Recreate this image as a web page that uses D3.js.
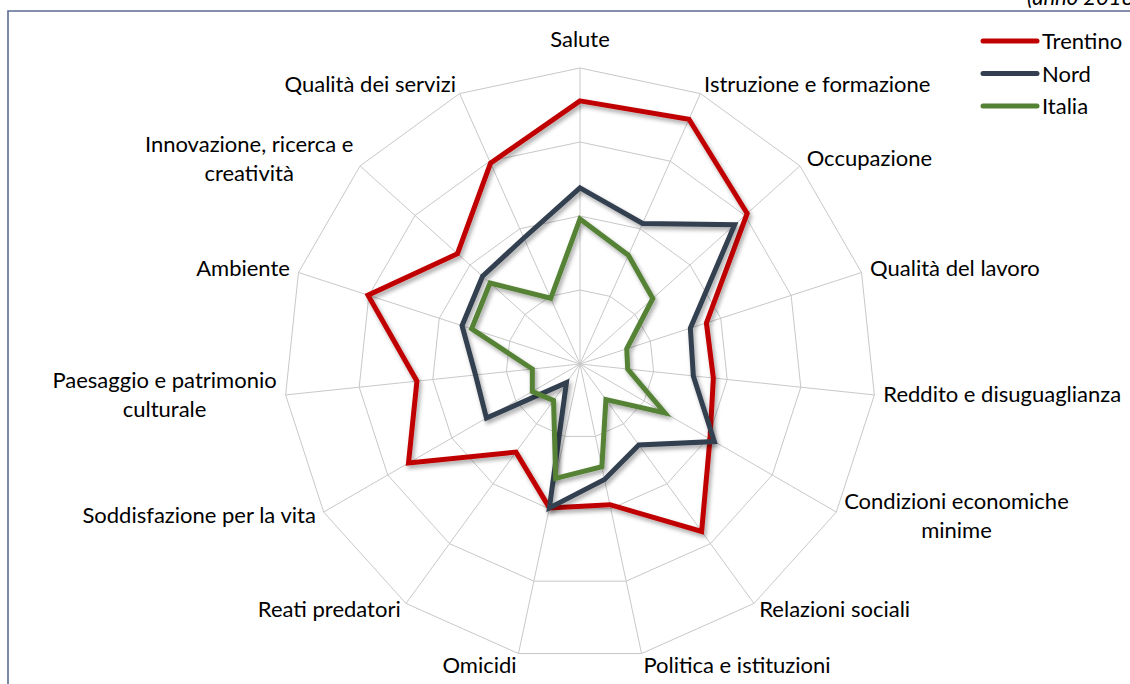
<!DOCTYPE html>
<html>
<head>
<meta charset="utf-8">
<script src="https://cdn.jsdelivr.net/npm/d3@7"></script>
<style>
    body { margin: 0; background: #fff; }
    svg { display: block; }
    text { font-family: Lato, "Open Sans", sans-serif; font-size: 22px; fill: #000; }
</style>
</head>
<body>
<svg id="chart" width="1130" height="684"></svg>
<script>
// axis labels (clockwise from top), one entry per line
const domains = [
    ["Salute"],
    ["Istruzione e formazione"],
    ["Occupazione"],
    ["Qualità del lavoro"],
    ["Reddito e disuguaglianza"],
    ["Condizioni economiche", "minime"],
    ["Relazioni sociali"],
    ["Politica e istituzioni"],
    ["Omicidi"],
    ["Reati predatori"],
    ["Soddisfazione per la vita"],
    ["Paesaggio e patrimonio", "culturale"],
    ["Ambiente"],
    ["Innovazione, ricerca e", "creatività"],
    ["Qualità dei servizi"]
];
const trentino = [88.9, 90.5, 76.0, 44.9, 45.3, 50.7, 69.9, 48.6, 49.7, 36.8, 66.9, 55.4, 75.3, 55.7, 74.3];
const nord     = [59.5, 52.0, 70.3, 39.2, 38.5, 52.4, 33.8, 39.9, 49.7, 7.8, 36.5, 35.5, 41.9, 44.3, 46.6];
const italia   = [49.0, 40.2, 33.1, 16.6, 16.2, 33.1, 14.9, 35.5, 39.5, 15.2, 18.6, 16.2, 38.5, 40.9, 24.3];
const ringTicks = [25, 50, 75, 100];

const series = [
    { name: "Trentino", values: trentino, color: "#c00000" },
    { name: "Nord", values: nord, color: "#333f50" },
    { name: "Italia", values: italia, color: "#548235" }
];

const svg = d3.select("#chart");
const cx = 580, cy = 364, R = 296;
const n = domains.length;

const angle = d3.scaleLinear().domain([0, n]).range([0, 2 * Math.PI]);
const r = d3.scaleLinear().domain([0, 100]).range([0, R]);

function pt(i, v) {
    const a = angle(i);
    return [cx + r(v) * Math.sin(a), cy - r(v) * Math.cos(a)];
}

// frame
svg.append("path")
    .attr("d", "M8,684 V11 H1130")
    .attr("fill", "none")
    .attr("stroke", "#5b6b93")
    .attr("stroke-width", 1.6);
svg.append("text")
    .attr("x", 1140)
    .attr("y", 5)
    .attr("text-anchor", "end")
    .style("font-style", "italic")
    .text("(anno 2018)");

// shadow
const defs = svg.append("defs");
defs.append("filter")
    .attr("id", "shadow")
    .attr("x", "-10%").attr("y", "-10%")
    .attr("width", "120%").attr("height", "120%")
    .append("feDropShadow")
    .attr("dx", 2).attr("dy", 3)
    .attr("stdDeviation", 2)
    .attr("flood-color", "#000")
    .attr("flood-opacity", 0.35);

// grid
const grid = svg.append("g");
ringTicks.forEach(function(t) {
    grid.append("path")
        .attr("d", d3.line()(d3.range(n).map(function(i) { return pt(i, t); })) + "Z")
        .attr("fill", "none")
        .attr("stroke", "#c8c8c8")
        .attr("stroke-width", 1);
});
d3.range(n).forEach(function(i) {
    const p = pt(i, 100);
    grid.append("line")
        .attr("x1", cx).attr("y1", cy)
        .attr("x2", p[0]).attr("y2", p[1])
        .attr("stroke", "#c8c8c8")
        .attr("stroke-width", 1);
});

// axis labels
const lineH = 29;
domains.forEach(function(lines, i) {
    const a = angle(i);
    const s = Math.sin(a), c = Math.cos(a);
    const p = pt(i, 100);
    let x = p[0] + 9 * s;
    let y = p[1] - 9 * c;
    let anchor = "middle";
    if (s > 0.1) anchor = "start";
    if (s < -0.1) anchor = "end";
    const block = lines.length * lineH;
    // vertical placement: centered on side labels, above at the top
    let top;
    if (Math.abs(s) < 0.1) top = y - block - 4;
    else top = y - block / 2 + (c < -0.9 ? 4 : 0);
    const g = svg.append("g");
    const texts = lines.map(function(l, k) {
        return g.append("text")
            .attr("y", top + k * lineH + 21)
            .text(l);
    });
    const w = d3.max(texts, function(t) { return t.node().getComputedTextLength(); });
    let mid = x;
    if (anchor === "start") mid = x + w / 2;
    if (anchor === "end") mid = x - w / 2;
    texts.forEach(function(t) { t.attr("x", mid).attr("text-anchor", "middle"); });
});

// series
const radarLine = d3.lineRadial()
    .angle(function(d, i) { return angle(i); })
    .radius(function(d) { return r(d); })
    .curve(d3.curveLinearClosed);

series.forEach(function(s) {
    svg.append("path")
        .datum(s.values)
        .attr("transform", "translate(" + cx + "," + cy + ")")
        .attr("d", radarLine)
        .attr("fill", "none")
        .attr("stroke", s.color)
        .attr("stroke-width", 5)
        .attr("stroke-linejoin", "miter")
        .attr("filter", "url(#shadow)");
});

// legend
const legend = svg.append("g").attr("transform", "translate(983,41)");
series.forEach(function(s, k) {
    const row = legend.append("g").attr("transform", "translate(0," + (k * 32.5) + ")");
    row.append("line")
        .attr("x1", 0).attr("x2", 54)
        .attr("stroke", s.color)
        .attr("stroke-width", 5)
        .attr("stroke-linecap", "round");
    row.append("text")
        .attr("x", 59)
        .attr("y", 8)
        .text(s.name);
});
</script>
</body>
</html>
